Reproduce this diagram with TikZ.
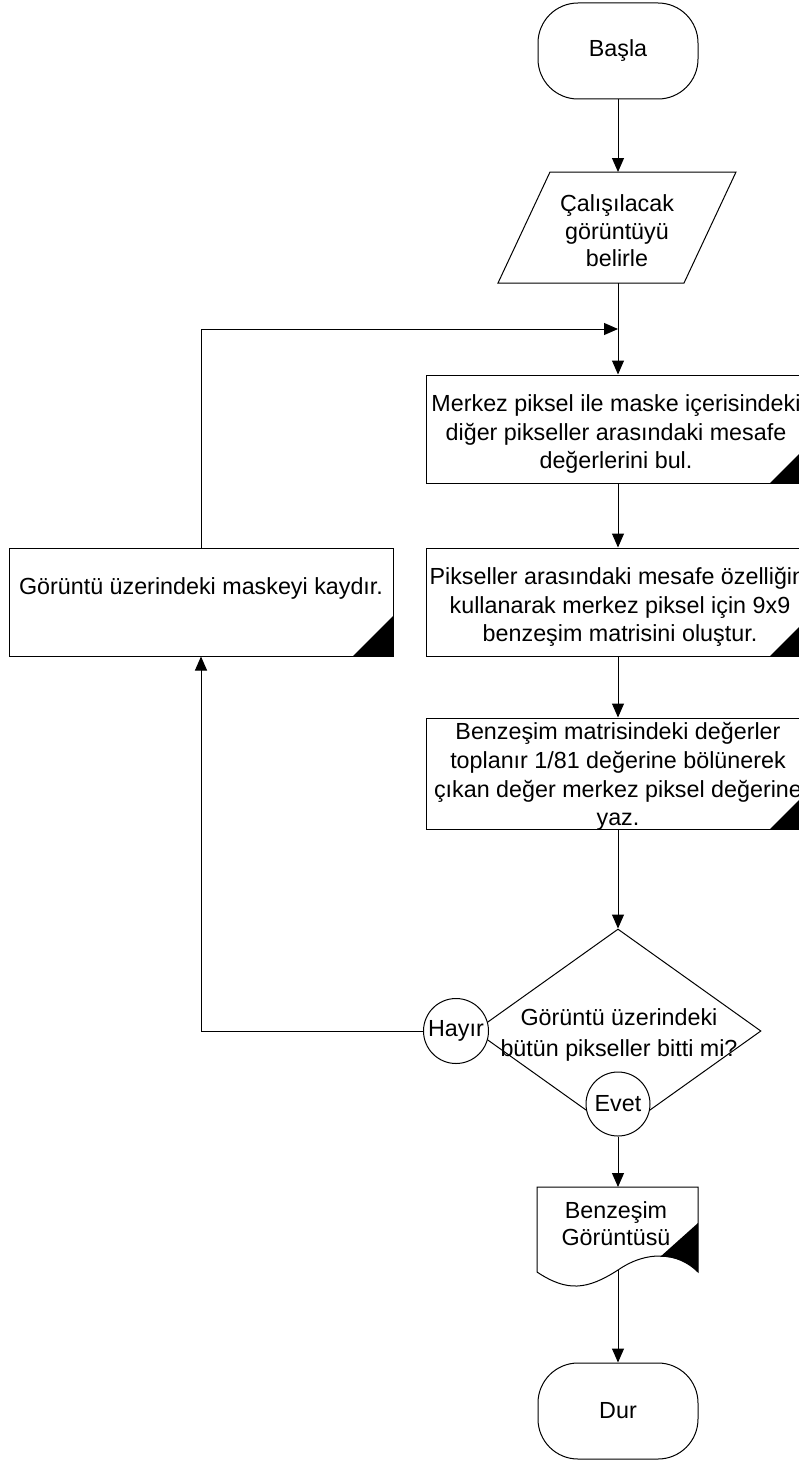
\documentclass[tikz,border=0pt]{standalone}
\usepackage{fontspec}
\setmainfont{Liberation Sans}
\usetikzlibrary{arrows.meta,shapes.geometric,calc}

\begin{document}
\begin{tikzpicture}[x=1pt,y=-1pt,
  every node/.style={font=\fontsize{23.3}{28.8}\selectfont, align=center},
  line/.style={line width=1pt, draw=black},
  arr/.style={line, -{Triangle[length=14pt,width=12pt]}},
  term/.style={line, rounded corners=40pt, minimum width=160pt, minimum height=96pt, inner sep=0pt},
  proc/.style={line, minimum width=384pt, minimum height=108pt, inner sep=0pt,
    path picture={\fill[black] (path picture bounding box.south east) -- ++(-40pt,0pt) -- ++(40pt,40pt) -- cycle;}},
  conn/.style={line, circle, minimum size=65pt, inner sep=0pt, fill=white},
  dia/.style={line, diamond, minimum width=286pt, minimum height=204pt, inner sep=0pt},
  txt/.style={inner sep=0pt}
]
\useasboundingbox (0,0) rectangle (799,1461);
\clip (0,0) rectangle (799,1461);

% start
\node[term] (start) at (618,51) {Başla};

% input: parallelogram
\draw[line] (550,172) -- (736,172) -- (684,283) -- (498,283) -- cycle;
\node[txt, font=\fontsize{23.3}{27.5}\selectfont] (io) at (617,231) {Çalışılacak\\görüntüyü\\belirle};
\coordinate (io-n) at (618,172);
\coordinate (io-s) at (618,283);
\coordinate (join) at (618,329);

% processing steps
\node[proc] (b1) at (618,429) {};
\node[txt] (b1t) at ($(b1)+(-2,5)$) {Merkez piksel ile maske içerisindeki\\diğer pikseller arasındaki mesafe\\değerlerini  bul.};
\node[proc] (b2) at (618,602) {};
\node[txt] (b2t) at ($(b2)+(2,5)$) {Pikseller arasındaki mesafe özelliğini\\kullanarak merkez piksel için 9x9\\benzeşim matrisini oluştur.};
\node[proc, minimum height=111pt] (b3) at (618,773.5) {};
\node[txt] (b3t) at ($(b3)+(0,3)$) {Benzeşim matrisindeki değerler\\toplanır 1/81 değerine bölünerek\\çıkan değer merkez piksel değerine\\yaz.};

% mask shift
\node[proc] (left) at (201,602) {};
\node[txt] (lefttext) at (201,588) {Görüntü üzerindeki maskeyi kaydır.};

% decision
\node[dia] (dec) at (618,1031) {};
\node[conn] (hayir) at (456,1031) {Hayır};
\node[conn, minimum size=64pt] (evet) at (618,1104) {Evet};
\node[txt, font=\fontsize{23.3}{31}\selectfont] (dectext) at (619,1035) {Görüntü üzerindeki\\bütün pikseller bitti mi?};

% output document
\draw[line] (537,1187) -- (698,1187) -- (698,1272)
  .. controls (678,1252) and (647,1250) .. (618,1270)
  .. controls (587,1290) and (567,1292) .. (537,1272) -- cycle;
\fill[black] (698,1223) -- (660,1257) .. controls (676,1256) and (688,1262) .. (698,1272) -- cycle;
\node[txt, font=\fontsize{23.3}{27}\selectfont] (doc) at (616,1224) {Benzeşim\\Görüntüsü};
\coordinate (doc-n) at (618,1187);
\coordinate (doc-s) at (618,1270);

% stop
\node[term] (stop) at (618,1411) {Dur};

% connectors
\draw[arr] (start.south) -- (io-n);
\draw[arr] (io-s) -- (b1.north);
\draw[arr] (left.north) |- (join);
\draw[arr] (b1.south) -- (b2.north);
\draw[arr] (b2.south) -- (b3.north);
\draw[arr] (b3.south) -- (dec.north);
\draw[arr] (hayir.west) -| (left.south);
\draw[arr] (evet.south) -- (doc-n);
\draw[arr] (doc-s) -- (stop.north);
\end{tikzpicture}
\end{document}
